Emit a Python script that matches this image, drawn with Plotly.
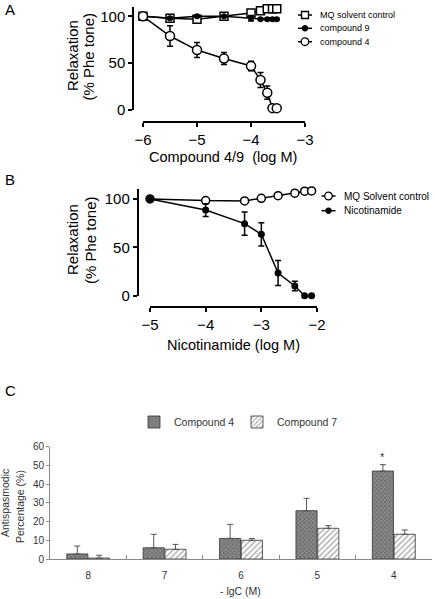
import plotly.graph_objects as go

# ---------------- data ----------------
# Panel A
A_x = [-6, -5.5, -5, -4.5, -4, -3.824, -3.699, -3.602, -3.523]
A_mq = [100, 98, 97, 100, 103.5, 106, 108, 108, 108]
A_mq_err = [0, 1, 1, 1, 1.5, 1, 1, 1, 1]
A_c9 = [100, 98, 100, 100, 98, 97, 97, 97, 97]
A_c9_err = [0, 1, 1, 1, 3, 1, 1, 1, 1]
A_c4 = [100, 79, 64, 55, 47, 32, 18.5, 2, 2]
A_c4_err = [0, 11, 8, 6.5, 5, 8, 7, 0, 0]
A_xticks = [-6, -5, -4, -3]
A_yticks = [0, 50, 100]
A_names = ["MQ solvent control", "compound 9", "compound 4"]

# Panel B
B_x = [-5, -4, -3.301, -3, -2.699, -2.398, -2.222, -2.097]
B_mq = [100, 98.3, 98, 100.7, 103.4, 106, 108, 108.3]
B_mq_err = [0, 1, 1, 1, 1, 1.5, 1, 1]
B_nic = [100, 88.5, 74.5, 63.5, 23.5, 10, 0, 0]
B_nic_err = [0, 6.5, 12, 12, 13, 5, 0, 0]
B_xticks = [-5, -4, -3, -2]
B_yticks = [0, 50, 100]
B_names = ["MQ Solvent control", "Nicotinamide"]

# Panel C
C_cats = ["8", "7", "6", "5", "4"]
C_c4 = [2.7, 6, 11, 25.8, 47]
C_c4_err = [4.2, 7.2, 7.5, 6.6, 3.4]
C_c7 = [0.5, 5.2, 10, 16.4, 13.2]
C_c7_err = [1.5, 2.6, 1, 1.4, 2.3]
C_yticks = [0, 10, 20, 30, 40, 50, 60]
C_names = ["Compound 4", "Compound 7"]

W, H = 435, 599
FONT = "Liberation Sans, Arial, sans-serif"


def px(x):
    return x / W


def py(y):
    return 1 - y / H


fig = go.Figure()

# ---------- Panel A ----------
err_kw = dict(type="data", color="black", thickness=1.5, width=3)
A_styles = [
    dict(symbol="square", size=8, color="white", line=dict(color="black", width=1.5)),
    dict(symbol="circle", size=6, color="black"),
    dict(symbol="circle", size=9, color="white", line=dict(color="black", width=1.5)),
]
for name, ys, es, mk in zip(A_names, [A_mq, A_c9, A_c4], [A_mq_err, A_c9_err, A_c4_err], A_styles):
    fig.add_trace(go.Scatter(x=A_x, y=ys, name=name, mode="lines+markers",
                             line=dict(color="black", width=1.5), marker=mk,
                             error_y=dict(array=es, **err_kw),
                             xaxis="x", yaxis="y", showlegend=False, cliponaxis=False))

# ---------- Panel B ----------
B_styles = [
    dict(symbol="circle", size=8, color="white", line=dict(color="black", width=1.5)),
    dict(symbol="circle", size=7, color="black"),
]
for name, ys, es, mk in zip(B_names, [B_mq, B_nic], [B_mq_err, B_nic_err], B_styles):
    fig.add_trace(go.Scatter(x=B_x, y=ys, name=name, mode="lines+markers",
                             line=dict(color="black", width=1.5), marker=mk,
                             error_y=dict(array=es, **err_kw),
                             xaxis="x2", yaxis="y2", showlegend=False, cliponaxis=False))

# ---------- Panel C ----------
bar_err = dict(type="data", symmetric=False, arrayminus=[0] * len(C_cats),
               color="#555555", thickness=1, width=3)
fig.add_trace(go.Bar(x=C_cats, y=C_c4, name=C_names[0],
                     marker=dict(color="#6a6a6a", line=dict(color="#333333", width=0.8),
                                 pattern=dict(shape="x", fgcolor="#3a3a3a", bgcolor="#8a8a8a", size=3, solidity=0.4)),
                     error_y=dict(array=C_c4_err, **bar_err),
                     xaxis="x3", yaxis="y3", legend="legend"))
fig.add_trace(go.Bar(x=C_cats, y=C_c7, name=C_names[1],
                     marker=dict(color="white", line=dict(color="#333333", width=0.8),
                                 pattern=dict(shape="/", fgcolor="#555555", bgcolor="white", size=4, solidity=0.35)),
                     error_y=dict(array=C_c7_err, **bar_err),
                     xaxis="x3", yaxis="y3", legend="legend"))

axA = dict(showline=True, linecolor="black", linewidth=1.5, ticks="outside", ticklen=4,
           tickwidth=1.5, tickcolor="black", showgrid=False, zeroline=False,
           tickfont=dict(family=FONT, size=15, color="black"))

fig.update_layout(
    width=W, height=H,
    margin=dict(l=0, r=0, t=0, b=0, autoexpand=False),
    paper_bgcolor="white", plot_bgcolor="white",
    showlegend=True,
    font=dict(family=FONT, color="black"),
    bargap=0.43, bargroupgap=0.03,
    barmode="group",
    xaxis=dict(domain=[px(143), px(305)], range=[-6, -3], tickvals=A_xticks,
               anchor="free", position=py(122), **axA),
    yaxis=dict(domain=[py(110), py(7)], range=[0, 110], tickvals=A_yticks,
               anchor="free", position=px(133), **axA),
    xaxis2=dict(domain=[px(150), px(317)], range=[-5, -2], tickvals=B_xticks,
                anchor="free", position=py(307), **axA),
    yaxis2=dict(domain=[py(295.7), py(189.3)], range=[0, 110], tickvals=B_yticks,
                anchor="free", position=px(137.5), **axA),
    xaxis3=dict(domain=[px(50), px(432)], type="category", anchor="y3",
                showline=True, linecolor="#8a8a8a", linewidth=1,
                ticks="inside", ticklen=4, tickcolor="#8a8a8a", tickson="boundaries",
                ticklabelstandoff=7,
                showgrid=False, tickfont=dict(family=FONT, size=10, color="#333333")),
    yaxis3=dict(domain=[py(559), py(446.7)], range=[0, 60], tickvals=C_yticks, anchor="x3",
                showline=True, linecolor="#8a8a8a", linewidth=1,
                ticks="outside", ticklen=3, tickcolor="#8a8a8a", showgrid=False, zeroline=False,
                tickfont=dict(family=FONT, size=10, color="#333333")),
    legend=dict(x=px(134), y=py(422), xanchor="left", yanchor="middle", orientation="h",
                font=dict(family=FONT, size=10.5, color="#333333"), bgcolor="rgba(0,0,0,0)",
                itemwidth=30, entrywidth=58),
)

ann = []
shapes = []


def legend_entry(y, x0, x1, text, fsize, kind):
    """Compact line+marker legend entry drawn in paper space."""
    shapes.append(dict(type="line", xref="paper", yref="paper", x0=px(x0), x1=px(x1), y0=py(y), y1=py(y),
                       line=dict(color="black", width=1.5)))
    cx = (x0 + x1) / 2
    if kind == "open_square":
        r = 3.5
        shapes.append(dict(type="rect", xref="paper", yref="paper", x0=px(cx - r), x1=px(cx + r),
                           y0=py(y + r), y1=py(y - r), fillcolor="white", line=dict(color="black", width=1.3)))
    elif kind == "filled_circle":
        r = 2.8
        shapes.append(dict(type="circle", xref="paper", yref="paper", x0=px(cx - r), x1=px(cx + r),
                           y0=py(y + r), y1=py(y - r), fillcolor="black", line=dict(color="black", width=1)))
    else:
        r = 3.8
        shapes.append(dict(type="circle", xref="paper", yref="paper", x0=px(cx - r), x1=px(cx + r),
                           y0=py(y + r), y1=py(y - r), fillcolor="white", line=dict(color="black", width=1.3)))
    ann.append(dict(text=text, x=px(x1 + 6), y=py(y), xref="paper", yref="paper", showarrow=False,
                    xanchor="left", yanchor="middle", font=dict(family=FONT, size=fsize, color="black")))


for nm, yy, kind in zip(A_names, [15, 28.3, 41.7], ["open_square", "filled_circle", "open_circle"]):
    legend_entry(yy, 298, 312, nm, 9, kind)
for nm, yy, kind in zip(B_names, [196, 210.7], ["open_circle", "filled_circle"]):
    legend_entry(yy, 321.5, 335.5, nm, 10, kind)

# panel letters
for t, (x, y) in {"A": (10, 9), "B": (10, 179), "C": (10, 391)}.items():
    ann.append(dict(text=t, x=px(x), y=py(y), xref="paper", yref="paper", showarrow=False,
                    font=dict(family=FONT, size=15, color="black"), xanchor="center", yanchor="middle"))
# axis titles
titles = [
    ("Relaxation", 73, 56, -90, 15, "black"),
    ("(% Phe tone)", 88.5, 57, -90, 15, "black"),
    ("Compound 4/9  (log M)", 223, 157, 0, 14.5, "black"),
    ("Relaxation", 73, 240, -90, 15, "black"),
    ("(% Phe tone)", 91, 240, -90, 15, "black"),
    ("Nicotinamide (log M)", 233, 345, 0, 14.5, "black"),
    ("Antispasmodic", 5, 503, -90, 10.5, "#333333"),
    ("Percentage (%)", 20, 507, -90, 10.5, "#333333"),
    ("- lgC (M)", 240, 591, 0, 10.5, "#333333"),
]
for t, x, y, ang, s, c in titles:
    ann.append(dict(text=t, x=px(x), y=py(y), xref="paper", yref="paper", showarrow=False,
                    textangle=ang, font=dict(family=FONT, size=s, color=c),
                    xanchor="center", yanchor="middle"))
# significance star
ann.append(dict(text="*", x=C_cats[4], y=C_c4[4] + C_c4_err[4], xref="x3", yref="y3",
                showarrow=False, xshift=-11, yshift=8, font=dict(family=FONT, size=11, color="#333333")))
fig.update_layout(annotations=ann, shapes=shapes)

fig.write_html("out.html", config={"displayModeBar": False},
               post_script="document.body.style.margin='0';document.body.style.overflow='hidden';")
